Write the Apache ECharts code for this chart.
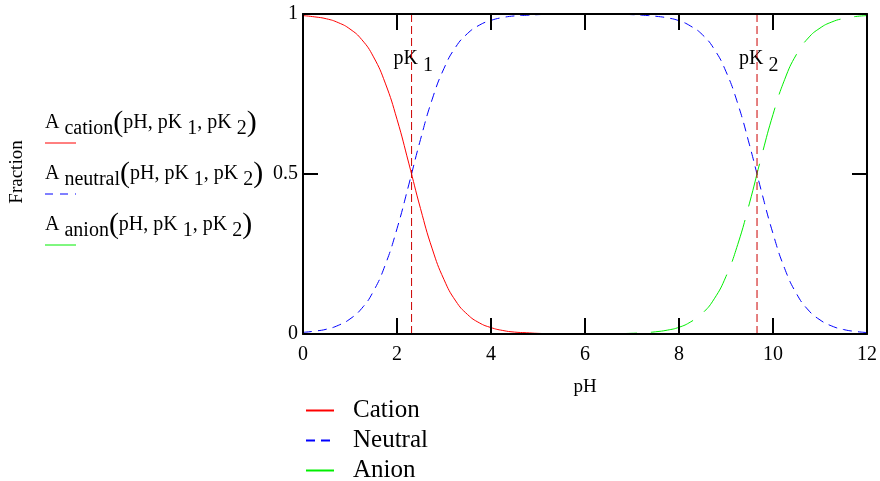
<!DOCTYPE html>
<html>
<head>
<meta charset="utf-8">
<script src="https://cdn.jsdelivr.net/npm/echarts@6/dist/echarts.min.js"></script>
<style>html,body{margin:0;padding:0;background:#fff}#c{width:880px;height:481px}</style>
</head>
<body>
<div id="c"></div>
<script>
const pH = [0,0.25,0.5,0.75,1,1.25,1.5,1.75,2,2.25,2.5,2.75,3,3.25,3.5,3.75,4,4.25,4.5,4.75,5,5.25,5.5,5.75,6,6.25,6.5,6.75,7,7.25,7.5,7.75,8,8.25,8.5,8.75,9,9.25,9.5,9.75,10,10.25,10.5,10.75,11,11.25,11.5,11.75,12];
const cation = [0.995,0.991,0.985,0.973,0.953,0.920,0.866,0.784,0.671,0.534,0.392,0.266,0.170,0.103,0.061,0.035,0.020,0.011,0.006,0.004,0.002,0.001,0.0006,0.0004,0.0002,0,0,0,0,0,0,0,0,0,0,0,0,0,0,0,0,0,0,0,0,0,0,0,0];
const neutral = [0.005,0.009,0.015,0.027,0.047,0.080,0.134,0.216,0.329,0.466,0.608,0.734,0.830,0.897,0.939,0.965,0.980,0.989,0.994,0.996,0.998,0.999,0.999,1.0,1.0,1.0,0.999,0.999,0.998,0.996,0.993,0.988,0.979,0.962,0.935,0.890,0.820,0.720,0.591,0.448,0.314,0.204,0.126,0.075,0.044,0.025,0.014,0.008,0.0045];
const anion = [0,0,0,0,0,0,0,0,0,0,0,0,0,0,0,0,0,0,0,0,0,0,0,0,0.0002,0.0004,0.0007,0.0012,0.0022,0.0039,0.0069,0.012,0.021,0.038,0.065,0.110,0.180,0.280,0.409,0.552,0.686,0.796,0.874,0.925,0.956,0.975,0.986,0.992,0.995];
const pK = [2.31, 9.66];
const pKNames = ['1', '2'];
const seriesNames = ['Cation', 'Neutral', 'Anion'];

const F = 'Liberation Serif, Times New Roman, serif';
const pairs = arr => pH.map((x, i) => [x, arr[i]]);

const chart = echarts.init(document.getElementById('c'), null, {renderer: 'canvas'});

const axisCommon = {
  type: 'value', min: 0, max: 12, interval: 2, z: 10,
  axisLine: {show: true, onZero: false, lineStyle: {color: '#000', width: 2}},
  axisTick: {show: true, inside: true, length: 16, lineStyle: {color: '#000', width: 2}},
  splitLine: {show: false}
};
const yCommon = {
  type: 'value', min: 0, max: 1, interval: 0.5, z: 10,
  axisLine: {show: true, onZero: false, lineStyle: {color: '#000', width: 2}},
  axisTick: {show: true, inside: true, length: 15, lineStyle: {color: '#000', width: 2}},
  splitLine: {show: false}
};

const subRich = {
  a: {fontFamily: F, fontSize: 20, color: '#000'},
  s: {fontFamily: F, fontSize: 20, color: '#000', padding: [11, 0, 0, 0]},
  t: {fontFamily: F, fontSize: 20, color: '#000'},
  p: {fontFamily: F, fontSize: 30, color: '#000'}
};
function fnLabel(name) {
  return '{a|A}{s| ' + name + '}{p|(}{t|pH, pK}{s| 1}{t|, pK}{s| 2}{p|)}';
}

const noSym = {color: 'rgba(0,0,0,0)', borderColor: 'rgba(0,0,0,0)', borderWidth: 0, opacity: 0};

chart.setOption({
  animation: false,
  backgroundColor: '#fff',
  grid: {left: 303, right: 5, top: 14, bottom: 147, show: false},
  xAxis: [
    Object.assign({}, axisCommon, {
      position: 'bottom', name: 'pH', nameLocation: 'middle', nameGap: 44,
      nameTextStyle: {fontFamily: F, fontSize: 19, color: '#000'},
      axisLabel: {fontFamily: F, fontSize: 20, color: '#000', margin: 11}
    }),
    Object.assign({}, axisCommon, {position: 'top', axisLabel: {show: false}})
  ],
  yAxis: [
    Object.assign({}, yCommon, {
      position: 'left',
      axisLabel: {fontFamily: F, fontSize: 20, color: '#000', margin: 5}
    }),
    Object.assign({}, yCommon, {position: 'right', axisLabel: {show: false}})
  ],
  legend: {
    data: seriesNames, orient: 'vertical', left: 305, top: 398, height: 160, width: 300, padding: 0,
    itemWidth: 28, itemHeight: 14, itemGap: 5,
    itemStyle: noSym,
    textStyle: {fontFamily: F, fontSize: 25, color: '#000', lineHeight: 24, padding: [0, 0, 0, 14]}
  },
  series: [
    {name: seriesNames[0], type: 'line', data: pairs(cation), smooth: true, symbol: 'none', showSymbol: false,
     lineStyle: {color: '#ff0000', width: 1}, itemStyle: {color: '#ff0000'}},
    {name: seriesNames[1], type: 'line', data: pairs(neutral), smooth: true, symbol: 'none', showSymbol: false,
     lineStyle: {color: '#0000ff', width: 1, type: [9, 6]}, itemStyle: {color: '#0000ff'}},
    {name: seriesNames[2], type: 'line', data: pairs(anion), smooth: true, symbol: 'none', showSymbol: false,
     lineStyle: {color: '#00ee00', width: 1, type: [44, 14]}, itemStyle: {color: '#00ee00'}},
    {name: 'pK1', type: 'line', data: [[pK[0], 0], [pK[0], 1]], symbol: 'none',
     lineStyle: {color: '#cc0000', width: 1, type: [8, 4]}},
    {name: 'pK2', type: 'line', data: [[pK[1], 0], [pK[1], 1]], symbol: 'none',
     lineStyle: {color: '#cc0000', width: 1, type: [8, 4]}}
  ]
});

const graphics = [
  {type: 'text', x: 17, y: 172, rotation: Math.PI / 2,
   style: {text: 'Fraction', fontFamily: F, fontSize: 19, fill: '#000', align: 'center', verticalAlign: 'middle'}},
  {type: 'text', x: 45, y: 123, style: {text: fnLabel('cation'), rich: subRich, align: 'left', verticalAlign: 'middle'}},
  {type: 'text', x: 45, y: 174, style: {text: fnLabel('neutral'), rich: subRich, align: 'left', verticalAlign: 'middle'}},
  {type: 'text', x: 45, y: 225, style: {text: fnLabel('anion'), rich: subRich, align: 'left', verticalAlign: 'middle'}},
  {type: 'line', shape: {x1: 45, y1: 143, x2: 76, y2: 143}, style: {stroke: '#ff0000', lineWidth: 1}},
  {type: 'line', shape: {x1: 45, y1: 194, x2: 76, y2: 194}, style: {stroke: '#0000ff', lineWidth: 1, lineDash: [8, 7]}},
  {type: 'line', shape: {x1: 45, y1: 245, x2: 76, y2: 245}, style: {stroke: '#00ee00', lineWidth: 1}}
];
pK.forEach((v, i) => {
  const px = chart.convertToPixel({xAxisIndex: 0}, v);
  const py = chart.convertToPixel({yAxisIndex: 0}, 0.86);
  graphics.push({type: 'text', x: px - 18, y: py,
    style: {text: 'pK{s| ' + pKNames[i] + '}', rich: {s: {fontFamily: F, fontSize: 20, padding: [13, 0, 0, 0], fill: '#000'}},
      fontFamily: F, fontSize: 20, fill: '#000', align: 'left', verticalAlign: 'middle'}});
});
chart.setOption({graphic: graphics});
</script>
</body>
</html>
